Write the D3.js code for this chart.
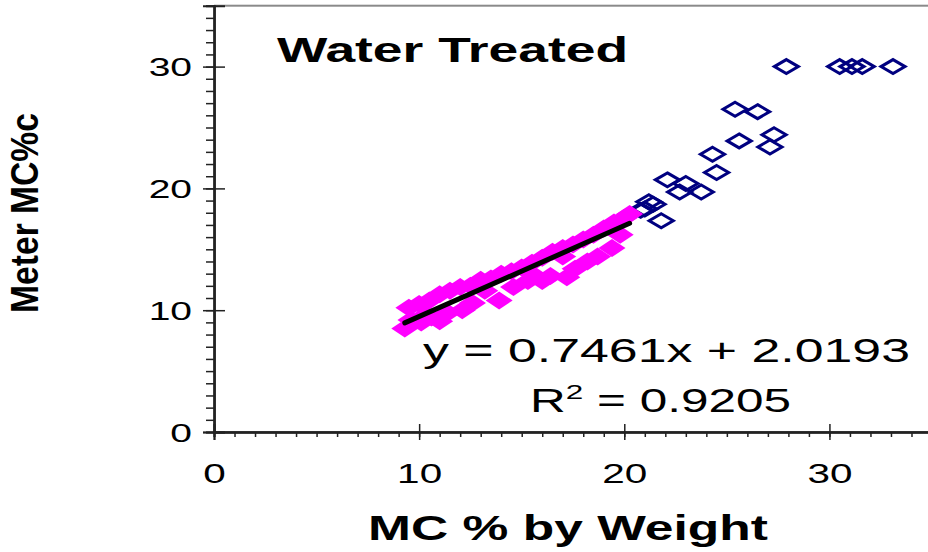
<!DOCTYPE html>
<html>
<head>
<meta charset="utf-8">
<script src="https://cdn.jsdelivr.net/npm/d3@7"></script>
<style>
  html, body { margin: 0; padding: 0; background: #fff; }
  svg { display: block; }
  text { font-family: "Liberation Sans", Arial, sans-serif; fill: #000; }
</style>
</head>
<body>
<svg id="chart" width="928" height="552"></svg>
<script>
// Meter reading vs. gravimetric moisture content (water treated samples)
const fitX = [9.3, 9.5, 9.6, 10.0, 10.1, 10.3, 10.5, 10.6, 11.0, 11.0, 11.4, 11.5, 12.0, 12.1, 12.5, 12.6, 13.0, 13.2, 13.5, 13.9, 14.0, 14.5, 14.6, 15.0, 15.3, 15.5, 15.5, 16.0, 16.0, 16.4, 16.5, 17.0, 17.0, 17.2, 17.5, 17.6, 18.0, 18.2, 18.5, 18.7, 19.0, 19.4, 19.5, 19.8, 20.0, 20.26];
const fitY = [8.5, 10.2, 9.2, 10.5, 9.0, 9.6, 10.8, 9.4, 11.3, 9.1, 9.8, 11.6, 11.9, 10.0, 12.0, 10.6, 12.5, 11.6, 12.6, 10.8, 13.0, 13.2, 11.9, 13.5, 12.4, 13.9, 13.0, 14.3, 12.4, 12.8, 14.8, 15.1, 14.4, 12.7, 15.4, 13.4, 15.8, 14.0, 16.2, 14.4, 16.7, 15.1, 17.2, 16.2, 17.6, 17.9];

const wetX = [20.8, 21.0, 21.2, 21.4, 21.8, 22.1, 22.7, 23.0, 23.75, 24.3, 24.5, 25.4, 25.6, 26.5, 27.1, 27.3, 27.9, 30.5, 31.1, 31.6, 33.1];
const wetY = [18.2, 18.3, 18.9, 18.7, 17.35, 20.7, 19.7, 20.4, 19.7, 22.8, 21.3, 26.5, 23.9, 26.3, 23.4, 24.4, 30.0, 30.0, 30.0, 30.0, 30.0];

// Linear fit for the low-moisture group
const slope = 0.7461, intercept = 2.0193, rSquared = 0.9205;

const xMajor = [0, 10, 20, 30];
const yMajor = [0, 10, 20, 30];

const svg = d3.select("#chart");
const x = d3.scaleLinear().domain([0, 35]).range([214, 932]);
const y = d3.scaleLinear().domain([0, 35]).range([432, 5.7]);
const stretch = 1.5;

// plot frame
svg.append("rect")
  .attr("x", x(0) + 1).attr("y", y(35))
  .attr("width", 940 - x(0)).attr("height", y(0) - y(35))
  .attr("fill", "none").attr("stroke", "#8a8a8a").attr("stroke-width", 2);

const axisColor = "#222";

// minor ticks
const xMinor = svg.append("g").attr("transform", `translate(0,${y(0)})`)
  .call(d3.axisBottom(x).tickValues(d3.range(0, 36)).tickSize(5).tickFormat(""));
const yMinor = svg.append("g").attr("transform", `translate(${x(0)},0)`)
  .call(d3.axisLeft(y).tickValues(d3.range(0, 36)).tickSize(8).tickFormat(""));
// major ticks crossing the axis line
const xUp = svg.append("g").attr("transform", `translate(0,${y(0)})`)
  .call(d3.axisTop(x).tickValues(xMajor).tickSize(8).tickFormat(""));
const yRight = svg.append("g").attr("transform", `translate(${x(0)},0)`)
  .call(d3.axisRight(y).tickValues(yMajor).tickSize(11).tickFormat(""));
const xAxis = svg.append("g").attr("transform", `translate(0,${y(0)})`)
  .call(d3.axisBottom(x).tickValues(xMajor).tickSize(8).tickPadding(0).tickFormat(d3.format("d")));
const yAxis = svg.append("g").attr("transform", `translate(${x(0)},0)`)
  .call(d3.axisLeft(y).tickValues(yMajor).tickSize(11).tickPadding(0).tickFormat(d3.format("d")));

[xMinor, yMinor, xUp, yRight, xAxis, yAxis].forEach(g => {
  g.selectAll("path.domain").attr("stroke", axisColor).attr("stroke-width", 2);
  g.selectAll(".tick line").attr("stroke", axisColor).attr("stroke-width", 1.5);
});

xAxis.selectAll(".tick text")
  .attr("font-size", 27).attr("y", 0).attr("dy", 0)
  .attr("transform", `translate(0,51) scale(${stretch},1)`)
  .attr("text-anchor", "middle");
yAxis.selectAll(".tick text")
  .attr("font-size", 26).attr("x", 0).attr("dy", 0)
  .attr("transform", `translate(-22,9) scale(${stretch},1)`)
  .attr("text-anchor", "end");

// diamond marker
function diamond(w, h) {
  return `M0,${-h / 2}L${w / 2},0L0,${h / 2}L${-w / 2},0Z`;
}

// high-moisture readings (outside fit range): open navy diamonds
svg.append("g").selectAll("path")
  .data(wetX.map((v, i) => [v, wetY[i]]))
  .join("path")
  .attr("d", diamond(24, 14))
  .attr("transform", d => `translate(${x(d[0])},${y(d[1])})`)
  .attr("fill", "none").attr("stroke", "#000080").attr("stroke-width", 3);

// fitted readings: filled magenta diamonds
svg.append("g").selectAll("path")
  .data(fitX.map((v, i) => [v, fitY[i]]))
  .join("path")
  .attr("d", diamond(27, 18))
  .attr("transform", d => `translate(${x(d[0])},${y(d[1])})`)
  .attr("fill", "#ff00ff");

// trend line across the fitted range
const xr = d3.extent(fitX);
svg.append("line")
  .attr("x1", x(xr[0])).attr("y1", y(slope * xr[0] + intercept))
  .attr("x2", x(xr[1])).attr("y2", y(slope * xr[1] + intercept))
  .attr("stroke", "#000").attr("stroke-width", 5).attr("stroke-linecap", "round");

// text helper: horizontally widened labels
function label(txt, cx, by, size, weight, anchor) {
  return svg.append("text")
    .attr("transform", `translate(${cx},${by}) scale(${stretch},1)`)
    .attr("text-anchor", anchor || "start")
    .attr("font-size", size).attr("font-weight", weight || "normal")
    .text(txt);
}

label("Water Treated", 277, 62, 35, "bold").attr("textLength", 351 / stretch).attr("lengthAdjust", "spacingAndGlyphs");

label(`y = ${slope}x + ${intercept}`, 423, 362, 33).attr("textLength", 487 / stretch).attr("lengthAdjust", "spacingAndGlyphs");

const r2 = label("", 530, 412, 33);
r2.append("tspan").text("R");
r2.append("tspan").attr("font-size", 21).attr("dy", -13).text("2");
r2.append("tspan").attr("dy", 13).text(` = ${rSquared}`);

label("MC % by Weight", 368, 540, 35, "bold").attr("textLength", 400 / stretch).attr("lengthAdjust", "spacingAndGlyphs");

svg.append("text")
  .attr("transform", `translate(38,313) scale(${stretch},1) rotate(-90)`)
  .attr("font-size", 26).attr("font-weight", "bold")
  .attr("textLength", 200).attr("lengthAdjust", "spacingAndGlyphs")
  .text("Meter MC%c");
</script>
</body>
</html>
